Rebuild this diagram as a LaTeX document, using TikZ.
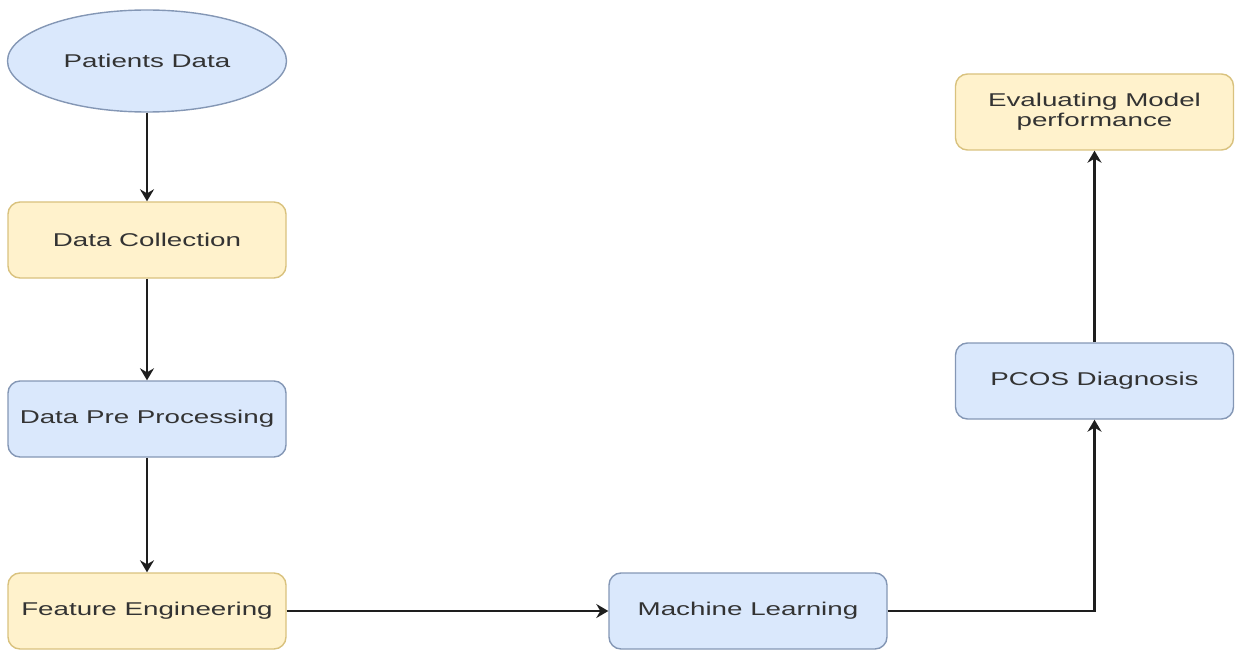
\documentclass[tikz,border=0pt]{standalone}
\usepackage{fontspec}
\setmainfont{Liberation Sans}[FakeStretch=1.5]
\usetikzlibrary{shapes.geometric,arrows.meta}
\definecolor{bluefill}{HTML}{DAE8FC}
\definecolor{blueline}{HTML}{8497B5}
\definecolor{yellowfill}{HTML}{FFF2CC}
\definecolor{yellowline}{HTML}{D9C27E}
\definecolor{labeltext}{HTML}{333333}
\definecolor{wire}{HTML}{1E1E1E}
\begin{document}
\begin{tikzpicture}[x=1pt,y=-1pt,
  every node/.style={font=\fontsize{18.5}{20}\selectfont, text=labeltext, inner sep=0pt, align=center},
  procbox/.style={rectangle, rounded corners=12pt, line width=1.4pt, minimum width=278pt, minimum height=76pt},
  bluebox/.style={procbox, fill=bluefill, draw=blueline},
  yellowbox/.style={procbox, fill=yellowfill, draw=yellowline},
  startshape/.style={ellipse, fill=bluefill, draw=blueline, line width=1.4pt, minimum width=279pt, minimum height=102pt},
  flow/.style={draw=wire, line width=2.2pt, -{Stealth[length=12pt,width=14pt,inset=4pt]}}
]
\useasboundingbox (0,0) rectangle (1235,650);

\node[startshape] (patients) at (147,61) {Patients Data};
\node[yellowbox] (collect) at (147,240) {Data Collection};
\node[bluebox] (prep) at (147,419) {Data Pre Processing};
\node[yellowbox] (feature) at (147,611) {Feature Engineering};
\node[bluebox] (ml) at (748,611) {Machine Learning};
\node[bluebox] (pcos) at (1094.5,381) {PCOS Diagnosis};
\node[yellowbox] (eval) at (1094.5,112) {Evaluating Model\\performance};

\draw[flow] (patients) -- (collect);
\draw[flow] (collect) -- (prep);
\draw[flow] (prep) -- (feature);
\draw[flow] (feature) -- (ml);
\draw[flow] (ml.east) -| (pcos.south);
\draw[flow] (pcos) -- (eval);
\end{tikzpicture}
\end{document}
